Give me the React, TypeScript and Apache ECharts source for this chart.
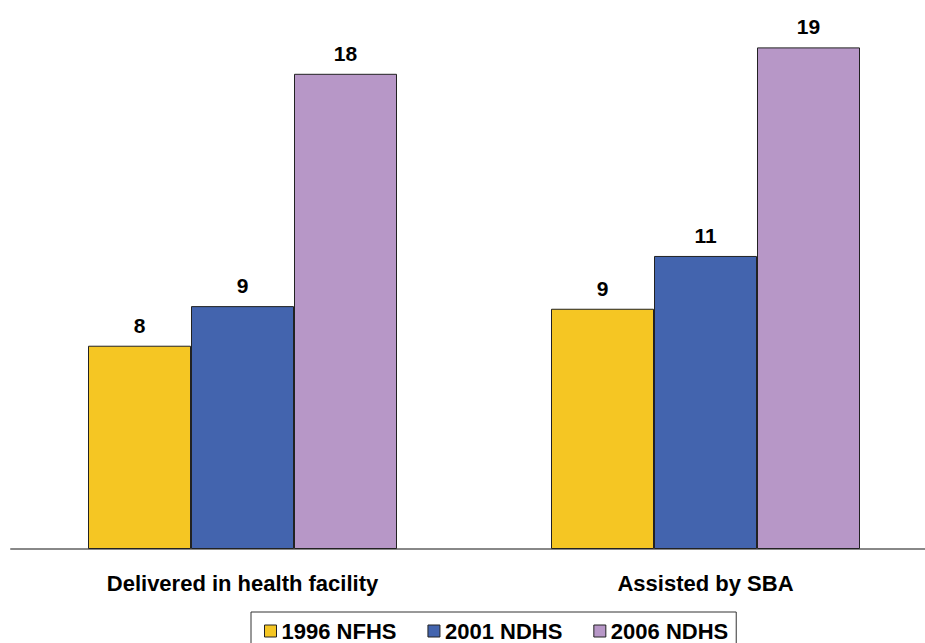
import React, { useEffect, useRef } from "react";
import * as echarts from "echarts";

const categories = ["Delivered in health facility", "Assisted by SBA"];
const seriesNames = ["1996 NFHS", "2001 NDHS", "2006 NDHS"];
const values1996 = [7.7, 9.1];
const values2001 = [9.2, 11.1];
const values2006 = [18.0, 19.0];
const colors = ["#F5C623", "#4364AE", "#B797C7"];

const FONT = "'Liberation Sans', Arial, sans-serif";

export default function App() {
  const ref = useRef<HTMLDivElement>(null);
  useEffect(() => {
    document.body.style.margin = "0";
    const chart = echarts.init(ref.current!, null, { renderer: "svg" });
    const data = [values1996, values2001, values2006];
    chart.setOption({
      animation: false,
      textStyle: { fontFamily: FONT },
      grid: { left: 11, width: 926, top: 21, bottom: 94, outerBoundsMode: "none", containLabel: false },
      legend: {
        left: 251,
        top: 612,
        orient: "horizontal",
        data: seriesNames,
        icon: "rect",
        itemWidth: 12,
        itemHeight: 12,
        itemGap: 31,
        borderColor: "#333",
        borderWidth: 1,
        borderRadius: 0,
        padding: [8, 8, 20, 13],
        itemStyle: { borderColor: "#222", borderWidth: 1 },
        textStyle: { fontFamily: FONT, fontWeight: "bold", fontSize: 22, color: "#000" },
      },
      xAxis: {
        type: "category",
        data: categories,
        axisTick: { show: false },
        axisLine: { show: true, lineStyle: { color: "#888", width: 2 } },
        axisLabel: {
          margin: 23,
          fontFamily: FONT,
          fontWeight: "bold",
          fontSize: 22,
          color: "#000",
        },
      },
      yAxis: {
        type: "value",
        min: 0,
        max: 20,
        show: false,
        splitLine: { show: false },
      },
      series: seriesNames.map((name, i) => ({
        name,
        type: "bar",
        data: data[i],
        barWidth: 103,
        barGap: "0%",
        itemStyle: { color: colors[i], borderColor: "#222", borderWidth: 1 },
        label: {
          show: true,
          position: "top",
          distance: 10,
          fontFamily: FONT,
          fontWeight: "bold",
          fontSize: 21,
          color: "#000",
          formatter: (p: any) => String(Math.round(p.value)),
        },
      })),
    });
    return () => chart.dispose();
  }, []);
  return <div ref={ref} style={{ width: 925, height: 643 }} />;
}
